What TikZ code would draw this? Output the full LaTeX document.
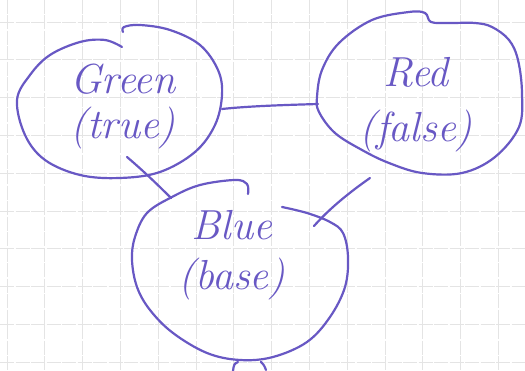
\documentclass[tikz,border=0pt]{standalone}
\definecolor{ink}{RGB}{104,88,196}
\definecolor{gridline}{RGB}{228,228,228}
\begin{document}
\begin{tikzpicture}[x=1pt,y=-1pt,
  pen/.style={draw=ink,line width=2.2pt,line cap=round,line join=round},
  word/.style={text=ink,font=\fontsize{42}{50}\selectfont\itshape,align=center,inner sep=0pt},
  ruling/.style={draw=gridline,line width=0.7pt,dash pattern=on 14pt off 1.5pt}]
% squared paper
\useasboundingbox[fill=white] (0,0) rectangle (525,371);
\foreach \k in {0,...,13} \draw[ruling] ({7+37.8*\k},0) -- ({7+37.8*\k},371);
\foreach \k in {0,...,9} \draw[ruling] (0,{22+37.8*\k}) -- (525,{22+37.8*\k});

% labels
\node[word] (green) at (123,106) {Green\\[-5pt](true)};
\node[word] (red)   at (416,105) {Red\\[5pt](false)};
\node[word] (blue)  at (232,255) {Blue\\(base)};

% hand-drawn loops around the labels
\draw[pen] plot[smooth,tension=0.6] coordinates {(122,47) (105,40) (80,42) (50,55) (30,75) (17,100) (25,135) (45,160) (80,175) (120,178) (160,172) (195,152) (215,125) (222,95) (218,70) (200,45) (170,30) (140,25) (124,27) (123,32)};
\draw[pen] plot[smooth cycle,tension=0.6] coordinates {(317,97) (322,70) (339,43) (372,20) (409,12) (425,13) (431,22) (449,23) (475,23) (492,27) (509,40) (518,60) (522,93) (519,127) (495,157) (462,173) (422,173) (389,163) (362,150) (335,133) (319,112)};
\draw[pen] plot[smooth,tension=0.6] coordinates {(248,194) (247,184) (235,180) (200,185) (172,197) (147,213) (135,237) (132,260) (137,287) (150,310) (173,333) (207,353) (240,360) (273,357) (307,342) (330,317) (345,287) (348,257) (343,233) (330,222) (307,213) (282,207)};

% connector ends
\coordinate (gr-a) at (222,109);
\coordinate (gr-b) at (318,104);
\coordinate (gb-a) at (127,157);
\coordinate (gb-b) at (171,198);
\coordinate (rb-a) at (370,178);
\coordinate (rb-b) at (314,226);

% connectors
\draw[pen] (gr-a) .. controls (250,106) and (285,105) .. (gr-b);
\draw[pen] (gb-a) .. controls (140,168) and (155,182) .. (gb-b);
\draw[pen] (rb-a) .. controls (350,192) and (330,208) .. (rb-b);

% stroke ends below the lower loop
\coordinate (t1) at (238,362);
\coordinate (t2) at (233,371);
\coordinate (t3) at (261,362);
\coordinate (t4) at (266,370);
\draw[pen] (t1) .. controls (234,364) .. (t2);
\draw[pen] (t3) .. controls (264,365) .. (t4);
\end{tikzpicture}
\end{document}
